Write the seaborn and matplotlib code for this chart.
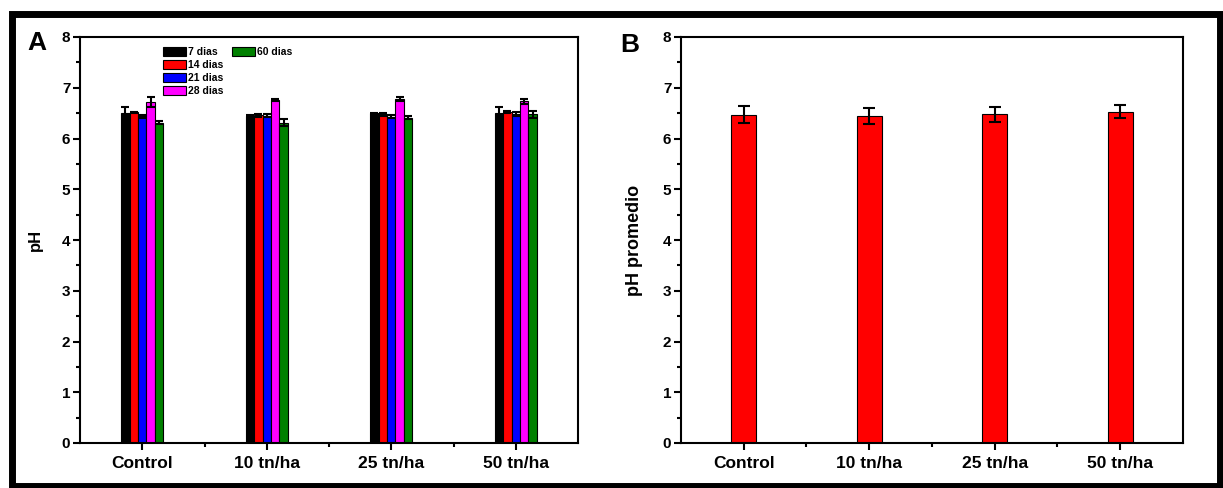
import numpy as np
import pandas as pd
import seaborn as sns
import matplotlib.pyplot as plt
from matplotlib.patches import Rectangle, Patch
from matplotlib.ticker import MultipleLocator, FixedLocator

# data
tratamientos = ["Control", "10 tn/ha", "25 tn/ha", "50 tn/ha"]
dias = ["7 dias", "14 dias", "21 dias", "28 dias", "60 dias"]
colores = ["#000000", "#ff0000", "#0000ff", "#ff00ff", "#008000"]

ph_7 = [6.50, 6.45, 6.50, 6.50]
ph_14 = [6.52, 6.46, 6.48, 6.52]
ph_21 = [6.44, 6.45, 6.43, 6.49]
ph_28 = [6.72, 6.75, 6.77, 6.73]
ph_60 = [6.31, 6.31, 6.41, 6.48]
err_7 = [0.13, 0.02, 0.01, 0.13]
err_14 = [0.01, 0.03, 0.03, 0.02]
err_21 = [0.03, 0.03, 0.03, 0.04]
err_28 = [0.10, 0.02, 0.04, 0.05]
err_60 = [0.03, 0.07, 0.03, 0.07]

ph_prom = [6.47, 6.44, 6.48, 6.53]
err_prom = [0.17, 0.16, 0.15, 0.13]

series = [ph_7, ph_14, ph_21, ph_28, ph_60]
errores = [err_7, err_14, err_21, err_28, err_60]

dfA = pd.DataFrame({
    "tratamiento": np.tile(tratamientos, len(dias)),
    "tiempo": np.repeat(dias, len(tratamientos)),
    "pH": np.concatenate(series),
})
dfB = pd.DataFrame({"tratamiento": tratamientos, "pH": ph_prom})

sns.set_style("ticks")
plt.rcParams["font.family"] = ["Liberation Sans", "DejaVu Sans"]
plt.rcParams["font.weight"] = "bold"
plt.rcParams["axes.labelweight"] = "bold"
plt.rcParams["text.color"] = "black"
plt.rcParams["axes.labelcolor"] = "black"
plt.rcParams["xtick.color"] = "black"
plt.rcParams["ytick.color"] = "black"

W, H = 1223, 488
fig = plt.figure(figsize=(W / 100, H / 100), dpi=100)
axA = fig.add_axes([80 / W, 1 - 443 / H, 498 / W, 406 / H])
axB = fig.add_axes([681 / W, 1 - 443 / H, 502 / W, 406 / H])

# panel A
sns.barplot(data=dfA, x="tratamiento", y="pH", hue="tiempo", palette=colores,
            width=0.34, saturation=1, edgecolor="black", linewidth=0.8,
            errorbar=None, legend=False, ax=axA)
barsA = list(axA.containers)
for cont, err in zip(barsA, errores):
    xs = [b.get_x() + b.get_width() / 2 for b in cont]
    ys = [b.get_height() for b in cont]
    axA.errorbar(xs, ys, yerr=err, fmt="none", ecolor="black",
                 elinewidth=1.5, capsize=3, capthick=1.5)

# panel B
sns.barplot(data=dfB, x="tratamiento", y="pH", color="#ff0000", width=0.2,
            saturation=1, edgecolor="black", linewidth=0.8, errorbar=None, ax=axB)
barsB = axB.containers[0]
xs = [b.get_x() + b.get_width() / 2 for b in barsB]
ys = [b.get_height() for b in barsB]
axB.errorbar(xs, ys, yerr=err_prom, fmt="none", ecolor="black",
             elinewidth=1.5, capsize=4, capthick=1.5)

for ax in (axA, axB):
    ax.set_xlim(-0.5, 3.5)
    ax.set_ylim(0, 8)
    ax.set_xlabel("")
    ax.yaxis.set_major_locator(MultipleLocator(1))
    ax.yaxis.set_minor_locator(MultipleLocator(0.5))
    ax.xaxis.set_minor_locator(FixedLocator([0.5, 1.5, 2.5]))
    for s in ax.spines.values():
        s.set_visible(True)
        s.set_linewidth(1.5)
        s.set_color("black")
    ax.tick_params(which="major", direction="out", length=5, width=1.5,
                   colors="black", top=False, right=False)
    ax.tick_params(which="minor", direction="out", length=3, width=1.5,
                   colors="black", top=False, right=False)
    ax.tick_params(axis="x", labelsize=12.5, pad=4)
    ax.tick_params(axis="y", labelsize=11, pad=2)

axA.set_ylabel("pH", fontsize=12, fontweight="bold", color="black")
axA.yaxis.set_label_coords(-0.074, 0.5)
axB.set_ylabel("pH promedio", fontsize=13, fontweight="bold", color="black")
axB.yaxis.set_label_coords(-0.076, 0.5)

# legend in two columns (4 + 1)
handles = [Patch(facecolor=c, edgecolor="black", linewidth=0.8) for c in colores]
opts = dict(loc="upper left", frameon=False, prop={"size": 7.5, "weight": "bold"},
            handlelength=2.2, handleheight=1.0, handletextpad=0.2,
            labelspacing=0.25, borderpad=0, borderaxespad=0)
leg1 = axA.legend(handles[:4], dias[:4], bbox_to_anchor=(0.1667, 0.975), **opts)
axA.add_artist(leg1)
axA.legend(handles[4:], dias[4:], bbox_to_anchor=(0.305, 0.975), **opts)

fig.text(37 / W, 1 - 43 / H, "A", fontsize=19, fontweight="bold", ha="center", va="center")
fig.text(630 / W, 1 - 45 / H, "B", fontsize=19, fontweight="bold", ha="center", va="center")

fig.add_artist(Rectangle((11.5 / W, 2.5 / H), 1208 / W, (474.5 - 2.5) / H,
                         transform=fig.transFigure, fill=False,
                         edgecolor="black", linewidth=5))

fig.savefig("out.png", dpi=100)
